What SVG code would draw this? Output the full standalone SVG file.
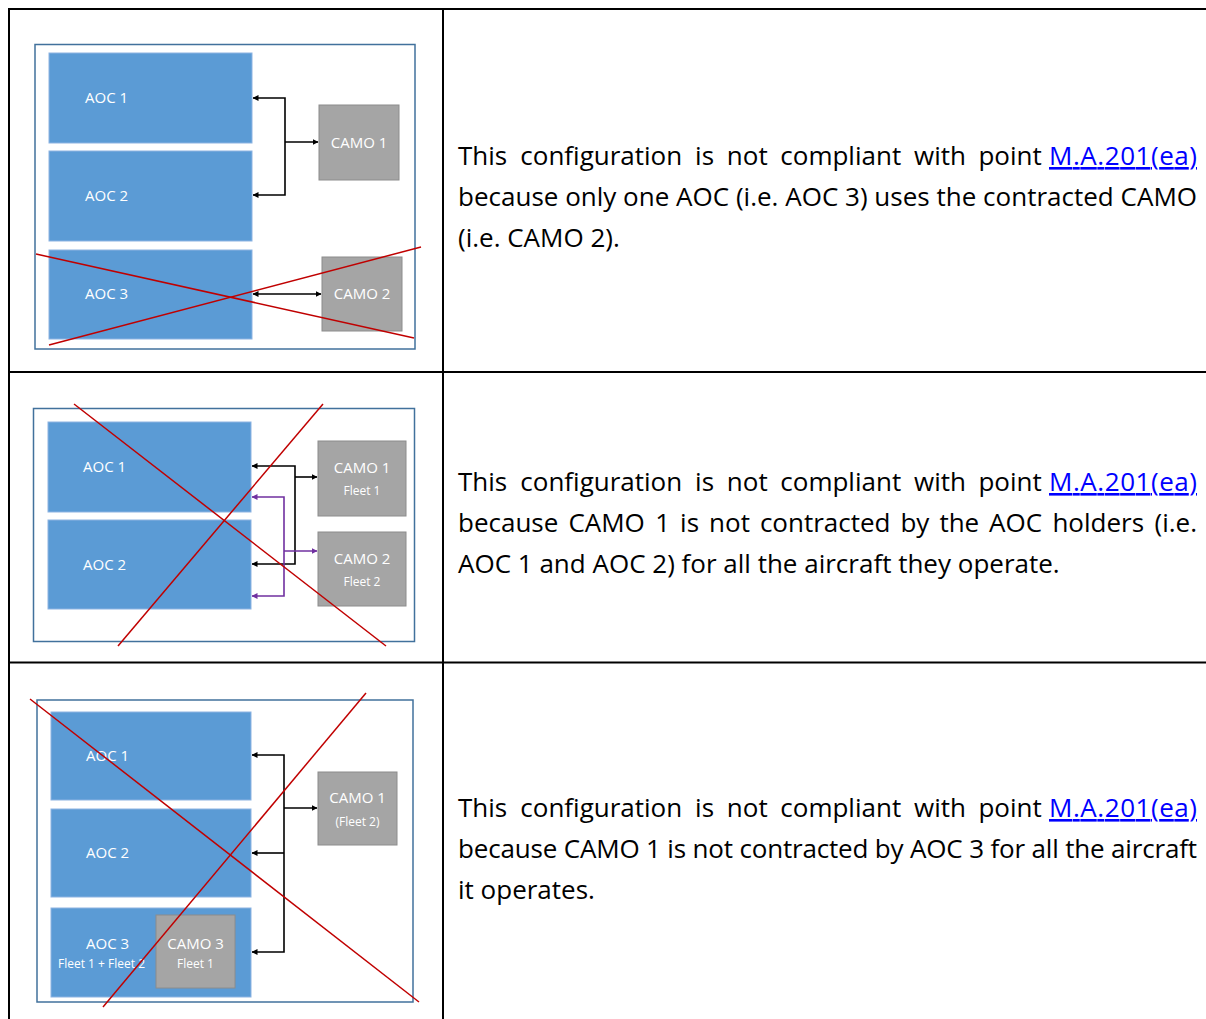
<svg xmlns="http://www.w3.org/2000/svg" width="1206" height="1019" viewBox="0 0 1206 1019">
<style>
.tbl{stroke:#000;stroke-width:2;fill:none}
.frame{fill:#fff;stroke:#41719c;stroke-width:1.5}
.aoc{fill:#5b9bd5;stroke:#8db3e2;stroke-width:1}
.camo{fill:#a5a5a5;stroke:#8c8c8c;stroke-width:1}
.lbl{font-family:'Open Sans','Liberation Sans',sans-serif;font-size:15px;fill:#fff}
.sm{font-family:'Open Sans','Liberation Sans',sans-serif;font-size:12px;fill:#fff}
.mid{text-anchor:middle}
.blk{stroke:#000;stroke-width:1.6;fill:none}
.pur{stroke:#7030a0;stroke-width:1.6;fill:none}
.x{stroke:#c00000;stroke-width:1.5;fill:none}
.body{font-family:'Open Sans','Liberation Sans',sans-serif;font-size:26px;fill:#000}
.link{fill:#0000ff;text-decoration:underline}
</style>
<defs>
<marker id="ab" viewBox="0 0 6 6" refX="5.5" refY="3" markerWidth="6" markerHeight="6" markerUnits="userSpaceOnUse" orient="auto-start-reverse"><path d="M0,0 L6,3 L0,6 z" fill="#000"/></marker>
<marker id="ap" viewBox="0 0 6 6" refX="5.5" refY="3" markerWidth="6" markerHeight="6" markerUnits="userSpaceOnUse" orient="auto-start-reverse"><path d="M0,0 L6,3 L0,6 z" fill="#7030a0"/></marker>
</defs>
<rect width="1206" height="1019" fill="#fff"/>
<g id="table">
<path class="tbl" d="M9,1019 V9 H1206 M443,9 V1019 M9,372 H1206 M9,662.5 H1206"/>
</g>

<!-- Panel 1 -->
<g id="panel1-frame"><rect class="frame" x="35" y="44.5" width="380" height="304.5"/></g>
<g id="p1-aoc1"><rect class="aoc" x="49" y="53" width="203" height="90"/><text class="lbl" x="85" y="103">AOC 1</text></g>
<g id="p1-aoc2"><rect class="aoc" x="49" y="151" width="203" height="90"/><text class="lbl" x="85" y="201">AOC 2</text></g>
<g id="p1-aoc3"><rect class="aoc" x="49" y="250" width="203" height="89"/><text class="lbl" x="85" y="299">AOC 3</text></g>
<g id="p1-camo1"><rect class="camo" x="319" y="105" width="80" height="75"/><text class="lbl mid" x="359" y="148">CAMO 1</text></g>
<g id="p1-camo2"><rect class="camo" x="322" y="257" width="80" height="74"/><text class="lbl mid" x="362" y="299">CAMO 2</text></g>

<!-- Panel 2 -->
<g id="panel2-frame"><rect class="frame" x="33.5" y="408.5" width="381" height="233"/></g>
<g id="p2-aoc1"><rect class="aoc" x="48" y="422" width="203" height="90"/><text class="lbl" x="83" y="472">AOC 1</text></g>
<g id="p2-aoc2"><rect class="aoc" x="48" y="520" width="203" height="89"/><text class="lbl" x="83" y="570">AOC 2</text></g>
<g id="p2-camo1"><rect class="camo" x="318" y="441" width="88" height="75"/><text class="lbl mid" x="362" y="473">CAMO 1</text><text class="sm mid" x="362" y="495">Fleet 1</text></g>
<g id="p2-camo2"><rect class="camo" x="318" y="532" width="88" height="74"/><text class="lbl mid" x="362" y="564">CAMO 2</text><text class="sm mid" x="362" y="586">Fleet 2</text></g>

<!-- Panel 3 -->
<g id="panel3-frame"><rect class="frame" x="37" y="700" width="376" height="302"/></g>
<g id="p3-aoc1"><rect class="aoc" x="51" y="712" width="200" height="88"/><text class="lbl" x="86" y="761">AOC 1</text></g>
<g id="p3-aoc2"><rect class="aoc" x="51" y="809" width="200" height="88"/><text class="lbl" x="86" y="858">AOC 2</text></g>
<g id="p3-aoc3"><rect class="aoc" x="51" y="908" width="200" height="89"/><text class="lbl" x="86" y="949">AOC 3</text><text class="sm" x="58" y="968">Fleet 1 + Fleet 2</text></g>
<g id="p3-camo3"><rect class="camo" x="156" y="915" width="79" height="73"/><text class="lbl mid" x="195.5" y="949">CAMO 3</text><text class="sm mid" x="195.5" y="968">Fleet 1</text></g>
<g id="p3-camo1"><rect class="camo" x="318" y="772" width="79" height="73"/><text class="lbl mid" x="357.5" y="803">CAMO 1</text><text class="sm mid" x="357.5" y="826">(Fleet 2)</text></g>

<g id="connectors">
<path class="blk" d="M285,142 V98 H253" marker-end="url(#ab)"/>
<path class="blk" d="M285,142 V195 H253" marker-end="url(#ab)"/>
<path class="blk" d="M285,142 H318" marker-end="url(#ab)"/>
<path class="blk" d="M253,294 H321" marker-start="url(#ab)" marker-end="url(#ab)"/>

<path class="blk" d="M295,477 V466 H252" marker-end="url(#ab)"/>
<path class="blk" d="M295,477 V564 H252" marker-end="url(#ab)"/>
<path class="blk" d="M295,477 H317" marker-end="url(#ab)"/>
<path class="pur" d="M284,551 V497 H252" marker-end="url(#ap)"/>
<path class="pur" d="M284,551 V596 H252" marker-end="url(#ap)"/>
<path class="pur" d="M284,551 H317" marker-end="url(#ap)"/>

<path class="blk" d="M284,808 V755 H252" marker-end="url(#ab)"/>
<path class="blk" d="M284,808 V952 H252" marker-end="url(#ab)"/>
<path class="blk" d="M284,853 H252" marker-end="url(#ab)"/>
<path class="blk" d="M284,808 H317" marker-end="url(#ab)"/>
</g>

<g id="crosses">
<line class="x" x1="36" y1="254" x2="414" y2="338"/>
<line class="x" x1="49" y1="345" x2="421" y2="247"/>
<line class="x" x1="74" y1="404" x2="386" y2="646"/>
<line class="x" x1="323" y1="404" x2="118" y2="646"/>
<line class="x" x1="30" y1="699" x2="419" y2="1002"/>
<line class="x" x1="366" y1="693" x2="103" y2="1007"/>
</g>

<g id="text1" class="body">
<text y="165"><tspan x="458">This</tspan><tspan x="520.3">configuration</tspan><tspan x="695.1">is</tspan><tspan x="726.8">not</tspan><tspan x="780.3">compliant</tspan><tspan x="914">with</tspan><tspan x="978.4">point</tspan></text>
<text class="link" x="1049" y="165" textLength="148" lengthAdjust="spacing">M.A.201(ea)</text>
<text x="458" y="206" textLength="739" lengthAdjust="spacing">because only one AOC (i.e. AOC 3) uses the contracted CAMO</text>
<text x="458" y="247">(i.e. CAMO 2).</text>
</g>

<g id="text2" class="body">
<text y="491"><tspan x="458">This</tspan><tspan x="520.3">configuration</tspan><tspan x="695.1">is</tspan><tspan x="726.8">not</tspan><tspan x="780.3">compliant</tspan><tspan x="914">with</tspan><tspan x="978.4">point</tspan></text>
<text class="link" x="1049" y="491" textLength="148" lengthAdjust="spacing">M.A.201(ea)</text>
<text y="532"><tspan x="458">because</tspan><tspan x="568.4">CAMO</tspan><tspan x="655.3">1</tspan><tspan x="680.1">is</tspan><tspan x="709.1">not</tspan><tspan x="759.9">contracted</tspan><tspan x="900.4">by</tspan><tspan x="939.4">the</tspan><tspan x="989.1">AOC</tspan><tspan x="1052.4">holders</tspan></text>
<text x="1197" y="532" text-anchor="end">(i.e.</text>
<text x="458" y="573">AOC 1 and AOC 2) for all the aircraft they operate.</text>
</g>

<g id="text3" class="body">
<text y="817"><tspan x="458">This</tspan><tspan x="520.3">configuration</tspan><tspan x="695.1">is</tspan><tspan x="726.8">not</tspan><tspan x="780.3">compliant</tspan><tspan x="914">with</tspan><tspan x="978.4">point</tspan></text>
<text class="link" x="1049" y="817" textLength="148" lengthAdjust="spacing">M.A.201(ea)</text>
<text x="458" y="858" textLength="739" lengthAdjust="spacing">because CAMO 1 is not contracted by AOC 3 for all the aircraft</text>
<text x="458" y="899">it operates.</text>
</g>
</svg>
